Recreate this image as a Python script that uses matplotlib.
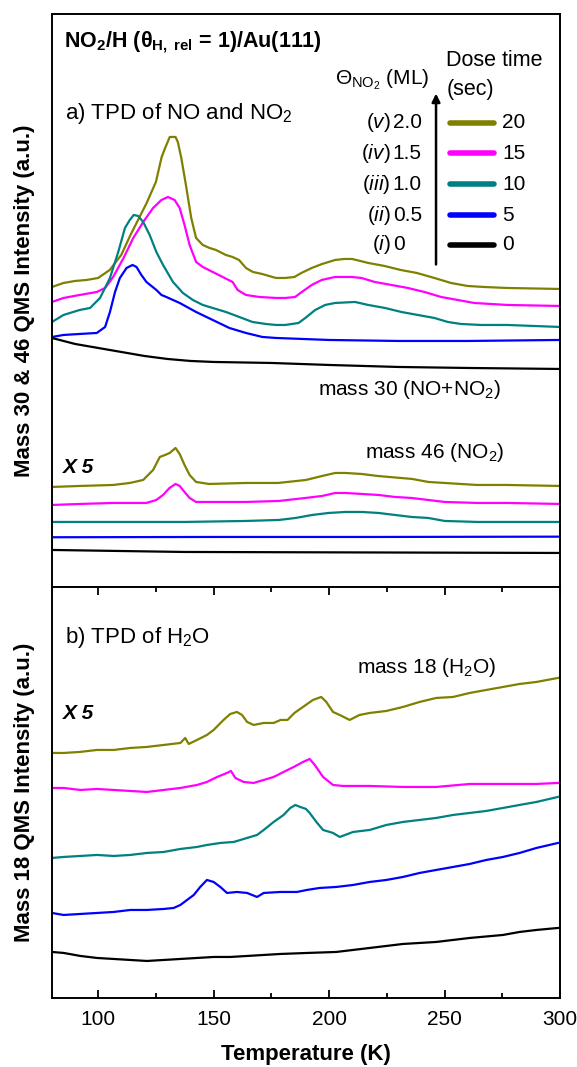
import matplotlib
matplotlib.use("Agg")
import matplotlib.pyplot as plt
from matplotlib.ticker import MultipleLocator

plt.rcParams['font.family'] = ['Liberation Sans', 'DejaVu Sans']
plt.rcParams['mathtext.fontset'] = 'custom'
plt.rcParams['mathtext.rm'] = 'Liberation Sans'
plt.rcParams['mathtext.it'] = 'Liberation Sans:italic'
plt.rcParams['mathtext.bf'] = 'Liberation Sans:bold'

# ---- data (temperature in K, intensity in a.u., curves already offset) ----
doses = [20, 15, 10, 5, 0]
coverages = ['2.0', '1.5', '1.0', '0.5', '0']
romans = ['v', 'iv', 'iii', 'ii', 'i']
colors = ['#808000', '#ff00ff', '#008080', '#0000ff', '#000000']

# mass 30 (NO + NO2)
t30_20 = [80, 85, 90, 95, 100, 105, 110, 114, 121, 125, 127.5, 129, 131, 133.5, 134.5, 136, 138, 140.3,
          142.4, 145.3, 148.2, 151, 155.3, 158.2, 161, 164, 167, 171, 177, 181, 185, 188, 192.5, 197,
          202.6, 206.5, 210, 217, 224, 231, 238, 245.6, 252.8, 260, 267, 277, 300]
i30_20 = [300, 304, 306, 307, 309, 317, 332, 352, 384, 405, 430, 439, 450, 450, 445, 429, 402, 369,
          349, 342, 339, 337, 332, 330, 327, 319, 315, 313, 309, 309, 310, 314, 319, 323,
          327, 328, 328, 324, 321, 317, 314, 309, 304, 301, 300, 299, 298]
t30_15 = [80, 85, 92, 99.4, 103, 106.5, 111, 115.2, 119.5, 123.8, 127.4, 130.2, 133.1, 135.3, 137.4,
          139.6, 142.4, 145.3, 149.6, 153.9, 158.2, 160.4, 164, 169.7, 177, 181, 185.3, 188.2, 192.5,
          196.8, 202.6, 209.7, 214, 219.8, 227, 234.1, 241.3, 248.5, 255.7, 262.8, 270, 277.2, 300]
i30_15 = [285, 289, 292, 295, 299, 310, 329, 349, 365, 379, 387, 390, 387, 379, 362,
          342, 325, 320, 315, 310, 305, 297, 292, 290, 289, 289, 290, 295, 302,
          307, 310, 310, 309, 305, 302, 299, 295, 290, 287, 284, 283, 282, 281]
t30_10 = [80, 85, 92, 96.5, 100.8, 105.1, 108.7, 111.6, 113.7, 115.4, 117.3, 119.5, 122.3, 125.2,
          128.1, 132.4, 136.7, 141, 145.3, 149.6, 155.3, 161.1, 166.8, 172.6, 177, 181, 186.8, 189.7,
          194, 198.3, 202.6, 211.2, 217, 224.2, 231.3, 238.4, 245.6, 251.4, 257.1, 265.8, 277.2, 300]
i30_10 = [265, 272, 277, 279, 289, 309, 335, 359, 367, 372, 371, 365, 352, 335,
          322, 305, 294, 287, 282, 279, 275, 270, 265, 263, 262, 262, 264, 269,
          277, 282, 284, 285, 282, 279, 275, 272, 269, 265, 263, 262, 262, 260]
t30_5 = [80, 85, 92, 99.4, 103, 105.1, 107.3, 109.4, 112.3, 114.9, 116.6, 118.7, 120.9, 125.2,
         127.4, 129.5, 135.3, 142.4, 149.6, 156.8, 164, 171.1, 177, 200, 230, 260, 300]
i30_5 = [250, 252, 253, 254, 260, 275, 295, 309, 319, 322, 320, 312, 305, 297,
         292, 290, 284, 275, 267, 259, 254, 250, 249, 247, 246, 246, 247]
t30_0 = [80, 90, 100, 110, 120, 130, 140, 150, 175, 200, 230, 260, 300]
i30_0 = [249, 243, 239, 235, 231, 228, 226, 225, 224, 222, 220, 219, 218]

# mass 46 (NO2), x5
t46_20 = [80, 92, 106.5, 113.7, 119.5, 123.8, 126.7, 129, 131, 133.5, 135.3, 137.4, 139.6, 142.4,
          148, 164, 178, 190, 197, 202.7, 207, 214, 221, 236, 243, 250, 264, 277, 300]
i46_20 = [100, 101, 102, 104, 107, 117, 130, 132, 134, 139, 133, 122, 112, 105,
          103, 104, 104, 107, 111, 114, 114, 113, 111, 108, 105, 104, 102, 102, 101]
t46_15 = [80, 92, 106.5, 120.9, 125.2, 128.1, 130.9, 133.5, 135.3, 137.4, 139.6, 142.4, 149.6, 164,
          178.3, 189.8, 197, 202.7, 207, 214.2, 221.4, 228.5, 235.7, 242.9, 250.1, 264.4, 277.2, 300]
i46_15 = [82, 83, 84, 84, 87, 92, 99, 103, 101, 95, 89, 85, 85, 85,
          86, 89, 91, 94, 94, 93, 92, 90, 89, 87, 85, 84, 84, 83]
t46_10 = [80, 137, 164, 178.3, 185.5, 192.7, 199.8, 207, 214.2, 221.4, 228.5, 235.7, 242.9, 250.1,
          264.4, 300]
i46_10 = [65, 65, 66, 67, 69, 72, 74, 75, 75, 74, 72, 70, 69, 66, 65, 65]
t46_5 = [80, 150, 220, 300]
i46_5 = [49.7, 50, 50, 50.3]
t46_0 = [80, 137, 300]
i46_0 = [37, 35, 34]

# mass 18 (H2O), x5
t18_20 = [80, 85, 92, 99.5, 106.7, 113.9, 121, 128.4, 135.6, 137.7, 139.2, 142.8, 147.1, 150,
          154.3, 157.2, 160.1, 162.3, 164.5, 167.3, 171.7, 176, 179, 182, 185, 188.7, 193, 196.6,
          198.8, 201.7, 204.6, 208.9, 213.2, 217.6, 224.8, 232, 239.2, 246.4, 253.7, 260.9, 268.1,
          275.3, 282.5, 289.8, 299.1]
i18_20 = [245, 245, 246, 248, 248, 250, 251, 253, 255, 260, 254, 258, 263, 268,
          278, 284, 286, 283, 276, 273, 275, 275, 278, 278, 285, 291, 298, 301,
          296, 286, 283, 278, 283, 285, 287, 291, 296, 300, 301, 305, 308,
          311, 314, 316, 320]
t18_15 = [80, 85, 92.3, 99.5, 106.7, 113.9, 121.1, 128.4, 135.6, 142.8, 147.1, 151.5, 155.8, 157.5,
          159.4, 163, 167.3, 171.7, 176, 180.3, 184.7, 188.7, 191.6, 193.8, 197.4, 201.7, 206, 217.6,
          232, 246.4, 260.9, 275.3, 289.8, 299.1]
i18_15 = [210, 210, 208, 209, 208, 207, 206, 208, 210, 213, 216, 221, 225, 227,
          220, 216, 215, 218, 221, 226, 231, 236, 239, 233, 221, 213, 212, 212,
          211, 211, 214, 214, 214, 215]
t18_10 = [80, 85, 92.3, 99.5, 106.7, 113.9, 121.1, 128.4, 135.6, 142.8, 147.1, 152.9, 158.7, 164.5,
          168.8, 171.7, 176, 180.3, 183.2, 185.4, 187.5, 190, 191.6, 194.5, 197.4, 201.7, 204.6, 210.4,
          217.6, 224.8, 232, 239.2, 246.4, 253.7, 260.9, 268.1, 275.3, 282.5, 289.8, 299.1]
i18_10 = [140, 141, 142, 143, 142, 143, 145, 146, 149, 151, 153, 155, 156, 160,
          163, 168, 176, 183, 190, 193, 191, 189, 185, 176, 168, 165, 161, 166,
          168, 173, 176, 178, 180, 183, 185, 187, 190, 193, 196, 201]
t18_5 = [80, 85, 92.3, 99.5, 106.7, 113.9, 121.1, 128.4, 132.7, 135.6, 138.5, 141.4, 144.2, 147.1,
         150, 152.9, 155.8, 160.1, 164.5, 168.8, 171.7, 178.9, 186.1, 190.4, 195.9, 203.1, 210.4,
         217.6, 224.8, 232, 239.2, 246.4, 253.7, 260.9, 268.1, 275.3, 282.5, 289.8, 299.1]
i18_5 = [85, 83, 84, 85, 86, 88, 88, 89, 90, 93, 98, 103, 111, 118,
         116, 111, 105, 106, 105, 101, 105, 106, 106, 108, 110, 111, 113,
         116, 118, 121, 125, 128, 131, 134, 138, 141, 145, 150, 155]
t18_0 = [80, 85.1, 92.3, 99.5, 106.7, 113.9, 121.1, 128.4, 135.6, 142.8, 150, 157.2, 164.5, 171.7,
         178.9, 190.4, 203.1, 217.6, 232, 246.4, 260.9, 275.3, 282.5, 289.8, 299.1]
i18_0 = [46, 45, 42, 40, 39, 38, 37, 38, 39, 40, 41, 41, 42, 43,
         44, 45, 46, 50, 54, 56, 60, 63, 66, 68, 70]

m30 = [(t30_20, i30_20), (t30_15, i30_15), (t30_10, i30_10), (t30_5, i30_5), (t30_0, i30_0)]
m46 = [(t46_20, i46_20), (t46_15, i46_15), (t46_10, i46_10), (t46_5, i46_5), (t46_0, i46_0)]
m18 = [(t18_20, i18_20), (t18_15, i18_15), (t18_10, i18_10), (t18_5, i18_5), (t18_0, i18_0)]

# ---- figure ----
fig = plt.figure(figsize=(5.77, 10.67), dpi=100)
ax1 = fig.add_axes([0.0901, 0.4499, 0.8804, 0.5370])
ax2 = fig.add_axes([0.0901, 0.0647, 0.8804, 0.3852])

for (t, v), c in zip(m30, colors):
    ax1.plot(t, v, color=c, lw=1.6)
for (t, v), c in zip(m46, colors):
    ax1.plot(t, v, color=c, lw=1.6)
for (t, v), c in zip(m18, colors):
    ax2.plot(t, v, color=c, lw=1.6)

for ax in (ax1, ax2):
    ax.set_xlim(80, 300)
    for s in ax.spines.values():
        s.set_linewidth(1.4)
    ax.set_yticks([])
ax1.set_ylim(0, 573)
ax2.set_ylim(0, 411)
ax1.set_xticks([])

ax2.xaxis.set_major_locator(MultipleLocator(50))
ax2.xaxis.set_minor_locator(MultipleLocator(25))
ax2.tick_params(axis='x', which='both', direction='in', top=True, width=1.3, labelsize=15, pad=9)
ax2.tick_params(axis='x', which='major', length=6)
ax2.tick_params(axis='x', which='minor', length=3.5)

ax1.set_ylabel('Mass 30 & 46 QMS Intensity (a.u.)', fontsize=16, fontweight='bold')
ax2.set_ylabel('Mass 18 QMS Intensity (a.u.)', fontsize=16, fontweight='bold')
ax1.yaxis.set_label_coords(-0.034, 0.5)
ax2.yaxis.set_label_coords(-0.034, 0.5)
ax2.set_xlabel('Temperature (K)', fontsize=16, fontweight='bold')
ax2.xaxis.set_label_coords(0.5, -0.112)

# ---- annotations, panel a ----
ax1.text(0.024, 0.951, r'NO$_\mathbf{2}$/H (θ$_\mathbf{H,\ rel}$ = 1)/Au(111)', transform=ax1.transAxes,
         fontsize=15.5, fontweight='bold', va='center', ha='left')
ax1.text(0.026, 0.827, r'a) TPD of NO and NO$_2$', transform=ax1.transAxes, fontsize=16,
         va='center', ha='left')
ax1.text(0.557, 0.885, r'Θ$_{\mathrm{NO}_2}$ (ML)', transform=ax1.transAxes, fontsize=15,
         va='center', ha='left')
ax1.text(0.776, 0.918, 'Dose time', transform=ax1.transAxes, fontsize=15.5, va='center', ha='left')
ax1.text(0.776, 0.869, '(sec)', transform=ax1.transAxes, fontsize=15.5, va='center', ha='left')
ax1.annotate('', xy=(0.756, 0.866), xytext=(0.756, 0.558), xycoords='axes fraction',
             arrowprops=dict(arrowstyle='-|>', color='k', lw=1.8, mutation_scale=12))

rows_y = [0.810, 0.757, 0.703, 0.649, 0.597]
for y, r, cov, d, c in zip(rows_y, romans, coverages, doses, colors):
    ax1.text(0.667, y, r'($\mathit{%s}$)' % r, transform=ax1.transAxes, fontsize=15,
             va='center', ha='right')
    ax1.text(0.671, y, cov, transform=ax1.transAxes, fontsize=15, va='center', ha='left')
    ax1.plot([0.783, 0.870], [y, y], color=c, lw=4, transform=ax1.transAxes, solid_capstyle='round')
    ax1.text(0.886, y, str(d), transform=ax1.transAxes, fontsize=15, va='center', ha='left')

ax1.text(0.524, 0.344, r'mass 30 (NO+NO$_2$)', transform=ax1.transAxes, fontsize=15,
         va='center', ha='left')
ax1.text(0.616, 0.234, r'mass 46 (NO$_2$)', transform=ax1.transAxes, fontsize=15,
         va='center', ha='left')
ax1.text(0.022, 0.209, 'X 5', transform=ax1.transAxes, fontsize=15, fontweight='bold',
         fontstyle='italic', va='center', ha='left')

# ---- annotations, panel b ----
ax2.text(0.026, 0.878, r'b) TPD of H$_2$O', transform=ax2.transAxes, fontsize=16,
         va='center', ha='left')
ax2.text(0.600, 0.803, r'mass 18 (H$_2$O)', transform=ax2.transAxes, fontsize=15,
         va='center', ha='left')
ax2.text(0.022, 0.693, 'X 5', transform=ax2.transAxes, fontsize=15, fontweight='bold',
         fontstyle='italic', va='center', ha='left')

fig.savefig('out.png', dpi=100)
